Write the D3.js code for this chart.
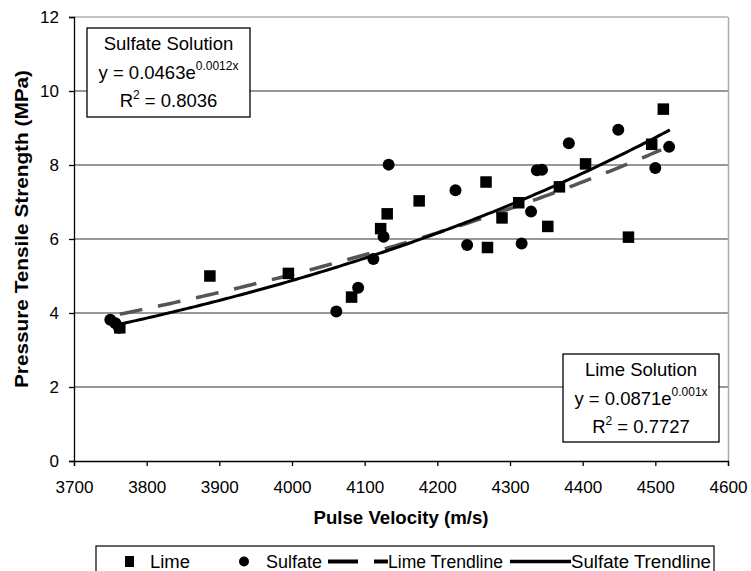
<!DOCTYPE html>
<html><head><meta charset="utf-8">
<script src="https://cdn.jsdelivr.net/npm/d3@7"></script>
<style>body{margin:0;background:#fff}svg{font-family:"Liberation Sans",Arial,sans-serif}</style>
</head><body><svg id="c" width="751" height="571"></svg>
<script>
const limeX = [3763,3887,3995,4082,4122,4131,4175,4267,4269,4289,4312,4352,4368,4404,4463,4495,4511];
const limeY = [3.6,5.0,5.07,4.43,6.28,6.68,7.03,7.54,5.77,6.57,6.98,6.34,7.41,8.03,6.05,8.56,9.51];
const sulfateX = [3750,3757,3762,4061,4091,4112,4126,4133,4225,4241,4316,4329,4337,4344,4381,4449,4500,4519];
const sulfateY = [3.82,3.72,3.6,4.04,4.68,5.46,6.06,8.01,7.32,5.84,5.88,6.74,7.86,7.87,8.59,8.95,7.92,8.49];
// trendline parameters [a, k, xStart, xEnd]  y = a*exp(k*x)
const limeTrend = [0.0894, 0.001008, 3763, 4510];
const sulfateTrend = [0.0458, 0.001167, 3755, 4520];
const xTicks = [3700,3800,3900,4000,4100,4200,4300,4400,4500,4600];
const yTicks = [0,2,4,6,8,10,12];
const legendLabels = ["Lime","Sulfate","Lime Trendline","Sulfate Trendline"];

const svg = d3.select("#c");
const x = d3.scaleLinear().domain([3700,4600]).range([74,728]);
const y = d3.scaleLinear().domain([0,12]).range([461,17]);

// gridlines
svg.append("g").selectAll("line").data(yTicks.filter(d=>d>0)).join("line")
  .attr("x1",74).attr("x2",728).attr("y1",d=>y(d)).attr("y2",d=>y(d))
  .attr("stroke",d=>d===12?"#888":"#333").attr("stroke-width",1.2);
// right border
svg.append("line").attr("x1",728.5).attr("x2",728.5).attr("y1",y(12)).attr("y2",y(0)).attr("stroke","#aaa").attr("stroke-width",1.5);

// axes
const xa = svg.append("g").attr("transform",`translate(0,${y(0)})`)
  .call(d3.axisBottom(x).tickValues(xTicks).tickFormat(d3.format("d")).tickSizeOuter(0).tickSize(5).tickPadding(15));
const ya = svg.append("g").attr("transform",`translate(74,0)`)
  .call(d3.axisLeft(y).tickValues(yTicks).tickSizeOuter(0).tickSize(5).tickPadding(10));
[xa,ya].forEach(a=>{a.selectAll("path,line").attr("stroke","#000").attr("stroke-width",1.3);
  a.selectAll("text").attr("font-size",17).attr("fill","#000").attr("font-family","Liberation Sans, Arial, sans-serif");});
xa.selectAll("text").attr("textLength",38).attr("lengthAdjust","spacingAndGlyphs");

// titles
svg.append("text").attr("x",401).attr("y",524).attr("text-anchor","middle").attr("font-weight","bold").attr("font-size",18)
  .attr("textLength",175).attr("lengthAdjust","spacingAndGlyphs").text("Pulse Velocity (m/s)");
svg.append("text").attr("transform","translate(28,229) rotate(-90)").attr("text-anchor","middle").attr("font-weight","bold").attr("font-size",18)
  .attr("textLength",318).attr("lengthAdjust","spacingAndGlyphs").text("Pressure Tensile Strength (MPa)");

// trendlines
function trendPts(t){const pts=[];for(let v=t[2];v<=t[3];v+=5)pts.push([v,t[0]*Math.exp(t[1]*v)]);return pts;}
const line = d3.line().x(d=>x(d[0])).y(d=>y(d[1]));
svg.append("path").attr("d",line(trendPts(limeTrend))).attr("fill","none").attr("stroke","#555").attr("stroke-width",3.5).attr("stroke-dasharray","23,16");
svg.append("path").attr("d",line(trendPts(sulfateTrend))).attr("fill","none").attr("stroke","#000").attr("stroke-width",3);

// points
const sq = 11.5;
svg.append("g").selectAll("rect").data(d3.range(limeX.length)).join("rect")
  .attr("x",i=>x(limeX[i])-sq/2).attr("y",i=>y(limeY[i])-sq/2).attr("width",sq).attr("height",sq).attr("fill","#000");
svg.append("g").selectAll("circle").data(d3.range(sulfateX.length)).join("circle")
  .attr("cx",i=>x(sulfateX[i])).attr("cy",i=>y(sulfateY[i])).attr("r",6).attr("fill","#000");

// annotation boxes
function box(x0,y0,w,h,title,a,k,r2){
  const g = svg.append("g");
  g.append("rect").attr("x",x0).attr("y",y0).attr("width",w).attr("height",h).attr("fill","#fff").attr("stroke","#000").attr("stroke-width",1.3);
  const cx = x0+w/2;
  g.append("text").attr("x",cx).attr("y",y0+22).attr("text-anchor","middle").attr("font-size",18.5).text(title);
  const t2 = g.append("text").attr("x",cx).attr("y",y0+51).attr("text-anchor","middle").attr("font-size",18.5);
  t2.append("tspan").text("y = "+a+"e");
  t2.append("tspan").attr("dy",-9).attr("font-size",12).text(k+"x");
  const t3 = g.append("text").attr("x",cx).attr("y",y0+79).attr("text-anchor","middle").attr("font-size",18.5);
  t3.append("tspan").text("R");
  t3.append("tspan").attr("dy",-8).attr("font-size",12).text("2");
  t3.append("tspan").attr("dy",8).text(" = "+r2);
}
box(87,28,163,89,"Sulfate Solution","0.0463","0.0012","0.8036");
box(563,354,156,88,"Lime Solution","0.0871","0.001","0.7727");

// legend
const lg = svg.append("g");
lg.append("rect").attr("x",96).attr("y",546).attr("width",618).attr("height",32).attr("fill","#fff").attr("stroke","#000").attr("stroke-width",1.2);
lg.append("rect").attr("x",125).attr("y",556).attr("width",9).attr("height",11).attr("fill","#000");
lg.append("circle").attr("cx",244).attr("cy",561.5).attr("r",5).attr("fill","#000");
lg.append("line").attr("x1",328).attr("x2",358).attr("y1",561.5).attr("y2",561.5).attr("stroke","#000").attr("stroke-width",4);
lg.append("line").attr("x1",374).attr("x2",388).attr("y1",561.5).attr("y2",561.5).attr("stroke","#000").attr("stroke-width",4);
lg.append("line").attr("x1",510).attr("x2",571).attr("y1",561.5).attr("y2",561.5).attr("stroke","#000").attr("stroke-width",3.5);
const lx = [150,266,388,571];
const lw = [40,56,115,140];
lg.selectAll("text.l").data(legendLabels).join("text").attr("class","l")
  .attr("x",(d,i)=>lx[i]).attr("y",568).attr("font-size",18)
  .attr("textLength",(d,i)=>lw[i]).attr("lengthAdjust","spacingAndGlyphs").text(d=>d);
</script></body></html>
